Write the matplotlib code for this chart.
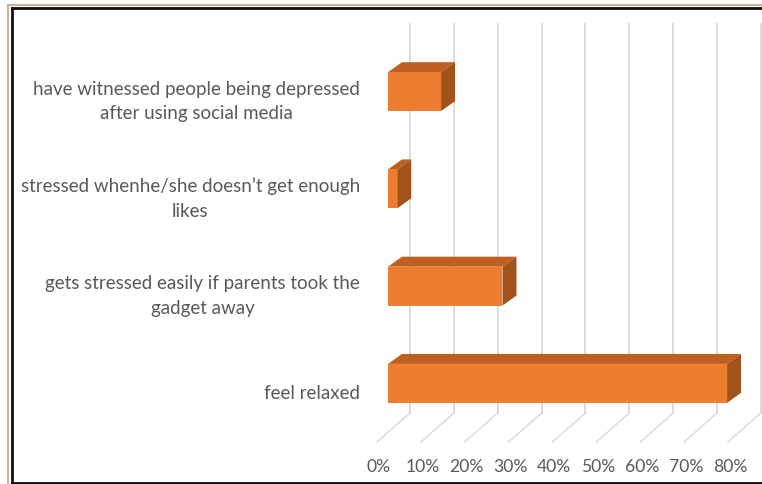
import matplotlib
matplotlib.use("Agg")
import matplotlib.pyplot as plt
from matplotlib.patches import Polygon, Rectangle
from matplotlib.lines import Line2D

# ---- data ----
categories = [
    "feel relaxed",
    "gets stressed easily if parents took the\ngadget away",
    "stressed whenhe/she doesn\u2019t get enough\nlikes",
    "have witnessed people being depressed\nafter using social media",
]
values = [77.3, 26.1, 2.1, 12.1]
ticks = [0, 10, 20, 30, 40, 50, 60, 70, 80]
tick_labels = ["0%", "10%", "20%", "30%", "40%", "50%", "60%", "70%", "80%"]

# ---- styles ----
FRONT = "#ED7D31"
TOP = "#BF5F20"
SIDE = "#A3521C"
TEXT = "#595959"
GRID = "#D9D9D9"
FONT = "Lato"
FS = 13.5
FS_TICK = 12.6

W, H = 762, 485
fig = plt.figure(figsize=(W / 100, H / 100), dpi=100)

# axes = front plane of the bars, in pixels
ax_l, ax_r = 388, 738.9
ax_top, ax_bot = 44, 433
ax = fig.add_axes([ax_l / W, 1 - ax_bot / H, (ax_r - ax_l) / W, (ax_bot - ax_top) / H])
ax.set_xlim(0, 80)
ax.set_ylim(-0.5, 3.5)
ax.axis("off")

px_x = 80 / (ax_r - ax_l)        # value units per pixel
px_y = 4.0 / (ax_bot - ax_top)   # category units per pixel

# offsets (pixels) relative to bar front plane
wall_dx, wall_dy = 22, 19        # back wall
floor_dx, floor_dy = -11, -10    # front edge of floor
bar_dx, bar_dy = 14, 10          # bar depth
bar_h = 0.4

# back wall gridlines and floor lines
for t, lab in zip(ticks, tick_labels):
    xb = t + wall_dx * px_x
    ax.add_line(Line2D([xb, xb], [-0.5 + wall_dy * px_y, 3.5 + wall_dy * px_y],
                       color=GRID, lw=1.3, clip_on=False, zorder=1))
    ax.add_line(Line2D([xb, t + floor_dx * px_x],
                       [-0.5 + wall_dy * px_y, -0.5 + floor_dy * px_y],
                       color=GRID, lw=1.0, clip_on=False, zorder=1))
    ax.text(t + floor_dx * px_x + 2 * px_x, -0.5 - 34 * px_y, lab,
            ha="center", va="center", color=TEXT, fontsize=FS_TICK, family=FONT)

# bars
for i, (cat, v) in enumerate(zip(categories, values)):
    y0, y1 = i - bar_h / 2, i + bar_h / 2
    ddx, ddy = bar_dx * px_x, bar_dy * px_y
    top = Polygon([(0, y1), (v, y1), (v + ddx, y1 + ddy), (ddx, y1 + ddy)],
                  closed=True, facecolor=TOP, edgecolor="none", zorder=3, clip_on=False)
    side = Polygon([(v, y0), (v + ddx, y0 + ddy), (v + ddx, y1 + ddy), (v, y1)],
                   closed=True, facecolor=SIDE, edgecolor="none", zorder=3, clip_on=False)
    front = Rectangle((0, y0), v, bar_h, facecolor=FRONT, edgecolor="none", zorder=4, clip_on=False)
    ax.add_patch(top)
    ax.add_patch(side)
    ax.add_patch(front)
    ax.text(-28 * px_x, i - 9 * px_y, cat, ha="right", va="center", multialignment="center",
            color=TEXT, fontsize=FS, family=FONT, linespacing=1.55)

# outer frame
def fline(x0, y0, x1, y1, color, lw):
    fig.add_artist(Line2D([x0 / W, x1 / W], [1 - y0 / H, 1 - y1 / H],
                          transform=fig.transFigure, color=color, lw=lw))

fline(8, 6, 8, 485, "#D2AE98", 1.5)
fline(8, 6, 762, 6, "#D2AE98", 1.5)
fline(11.5, 9, 11.5, 484, "#111111", 2.0)
fline(11.5, 9, 762, 9, "#111111", 2.0)
fline(11.5, 483.5, 762, 483.5, "#111111", 2.0)

fig.savefig("out.png", dpi=100)
